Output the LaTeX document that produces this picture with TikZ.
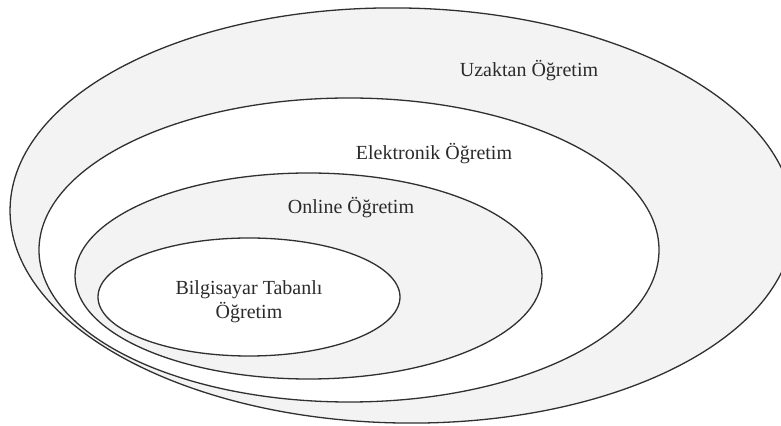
\documentclass[tikz,border=0pt]{standalone}
\usepackage{fontspec}
\setmainfont{Liberation Serif}
\definecolor{ringgray}{HTML}{F3F3F3}
\definecolor{edgegray}{HTML}{303030}
\definecolor{labelink}{HTML}{2B2B2B}
\begin{document}
\begin{tikzpicture}[line join=bevel,
  ring/.style={draw=edgegray,line width=1.3bp},
  lbl/.style={draw=none,text=labelink,font=\fontsize{20bp}{24bp}\selectfont,inner sep=0pt,align=center},]
%%
\useasboundingbox (0bp,0bp) rectangle (781bp,426bp);
\clip (0bp,0bp) rectangle (781bp,426bp);
  \draw [ring,fill=ringgray,rotate around={-1:(402bp,210.5bp)}] (402bp,210.5bp) ellipse [x radius=392bp,y radius=207.5bp];
  \draw [ring,fill=white] (349bp,176bp) ellipse [x radius=310bp,y radius=152bp];
  \draw [ring,fill=ringgray] (308.5bp,150bp) ellipse [x radius=233.5bp,y radius=103bp];
  \draw [ring,fill=white] (249bp,129bp) ellipse [x radius=151bp,y radius=59bp];
%
  \node (node_uzaktan) at (529bp,349bp) [lbl,anchor=base] {Uzaktan Öğretim};
  \node (node_elektronik) at (434bp,266bp) [lbl,anchor=base] {Elektronik Öğretim};
  \node (node_online) at (351bp,212bp) [lbl,anchor=base] {Online Öğretim};
  \node (node_bilgisayar) at (249bp,124bp) [lbl] {Bilgisayar Tabanlı\\Öğretim};
%
\end{tikzpicture}
\end{document}
